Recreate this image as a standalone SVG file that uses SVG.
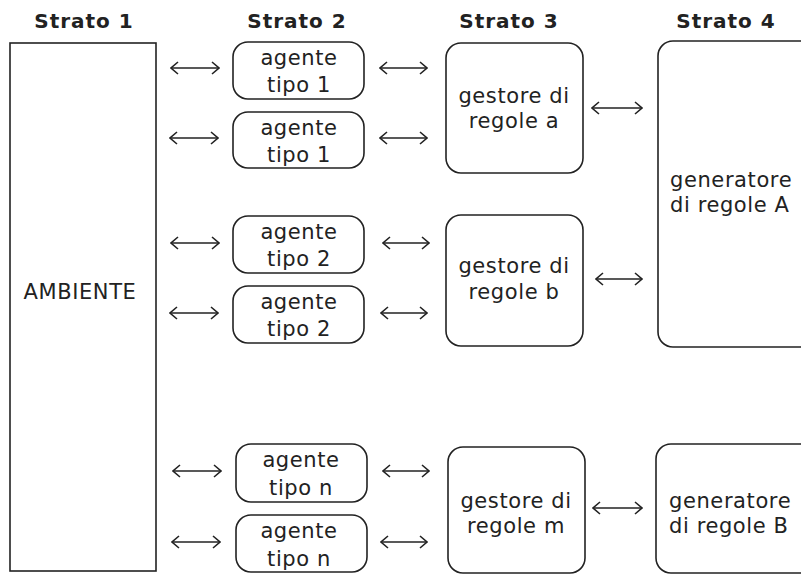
<svg xmlns="http://www.w3.org/2000/svg" width="801" height="574" viewBox="0 0 801 574">
<style>
.box{fill:#fff;stroke:#222;stroke-width:1.6}
.t{font-family:"DejaVu Sans",Verdana,sans-serif;font-size:21px;letter-spacing:0.6px;fill:#222;text-anchor:middle}
.tl{font-family:"DejaVu Sans",Verdana,sans-serif;font-size:21px;letter-spacing:0.6px;fill:#222}
.h{font-family:"DejaVu Sans",Verdana,sans-serif;font-size:20px;letter-spacing:1px;font-weight:bold;fill:#222;text-anchor:middle}
.c{stroke:#222;stroke-width:1.6;fill:none;marker-start:url(#ah);marker-end:url(#ah)}
</style>
<defs>
<marker id="ah" viewBox="0 0 10 14" refX="9" refY="7" markerWidth="10" markerHeight="14" markerUnits="userSpaceOnUse" orient="auto-start-reverse">
<path d="M2,1 L9,7 L2,13" fill="none" stroke="#222" stroke-width="1.6"/>
</marker>
</defs>
<g id="titles">
<text class="h" x="84" y="28">Strato 1</text>
<text class="h" x="297" y="28">Strato 2</text>
<text class="h" x="509" y="28">Strato 3</text>
<text class="h" x="726" y="28">Strato 4</text>
</g>
<g id="ambiente">
<rect class="box" x="10" y="43" width="146" height="528"/>
<text class="t" x="80" y="299">AMBIENTE</text>
</g>
<g id="agente1a">
<rect class="box" x="233" y="42" width="131" height="57" rx="15"/>
<text class="t" x="299" y="65">agente</text>
<text class="t" x="299" y="92">tipo 1</text>
</g>
<g id="agente1b">
<rect class="box" x="233" y="112" width="131" height="56" rx="15"/>
<text class="t" x="299" y="135">agente</text>
<text class="t" x="299" y="162">tipo 1</text>
</g>
<g id="agente2a">
<rect class="box" x="233" y="216" width="131" height="57" rx="15"/>
<text class="t" x="299" y="239">agente</text>
<text class="t" x="299" y="266">tipo 2</text>
</g>
<g id="agente2b">
<rect class="box" x="233" y="286" width="131" height="57" rx="15"/>
<text class="t" x="299" y="309">agente</text>
<text class="t" x="299" y="336">tipo 2</text>
</g>
<g id="agenteNa">
<rect class="box" x="236" y="444" width="131" height="58" rx="15"/>
<text class="t" x="301" y="467">agente</text>
<text class="t" x="301" y="495">tipo n</text>
</g>
<g id="agenteNb">
<rect class="box" x="236" y="515" width="131" height="57" rx="15"/>
<text class="t" x="299" y="538">agente</text>
<text class="t" x="299" y="566">tipo n</text>
</g>
<g id="gestoreA">
<rect class="box" x="446" y="43" width="137" height="130" rx="15"/>
<text class="t" x="514" y="103">gestore di</text>
<text class="t" x="514" y="128">regole a</text>
</g>
<g id="gestoreB">
<rect class="box" x="446" y="215" width="137" height="131" rx="15"/>
<text class="t" x="514" y="273">gestore di</text>
<text class="t" x="514" y="299">regole b</text>
</g>
<g id="gestoreM">
<rect class="box" x="448" y="447" width="137" height="126" rx="15"/>
<text class="t" x="516" y="508">gestore di</text>
<text class="t" x="516" y="533">regole m</text>
</g>
<g id="generatoreA">
<rect class="box" x="658" y="41" width="160" height="306" rx="15"/>
<text class="tl" x="670" y="187">generatore</text>
<text class="tl" x="670" y="212">di regole A</text>
</g>
<g id="generatoreB">
<rect class="box" x="656" y="444" width="160" height="129" rx="15"/>
<text class="tl" x="669" y="508">generatore</text>
<text class="tl" x="669" y="533">di regole B</text>
</g>
<g id="connectors">
<line class="c" x1="171" y1="68" x2="219" y2="68"/>
<line class="c" x1="170" y1="138" x2="218" y2="138"/>
<line class="c" x1="171" y1="243" x2="219" y2="243"/>
<line class="c" x1="170" y1="313" x2="218" y2="313"/>
<line class="c" x1="173" y1="471" x2="221" y2="471"/>
<line class="c" x1="172" y1="542" x2="220" y2="542"/>
<line class="c" x1="380" y1="68" x2="427" y2="68"/>
<line class="c" x1="380" y1="138" x2="427" y2="138"/>
<line class="c" x1="383" y1="243" x2="429" y2="243"/>
<line class="c" x1="381" y1="313" x2="427" y2="313"/>
<line class="c" x1="383" y1="471" x2="429" y2="471"/>
<line class="c" x1="381" y1="542" x2="427" y2="542"/>
<line class="c" x1="592" y1="108" x2="642" y2="108"/>
<line class="c" x1="596" y1="279" x2="642" y2="279"/>
<line class="c" x1="593" y1="508" x2="642" y2="508"/>
</g>
</svg>
